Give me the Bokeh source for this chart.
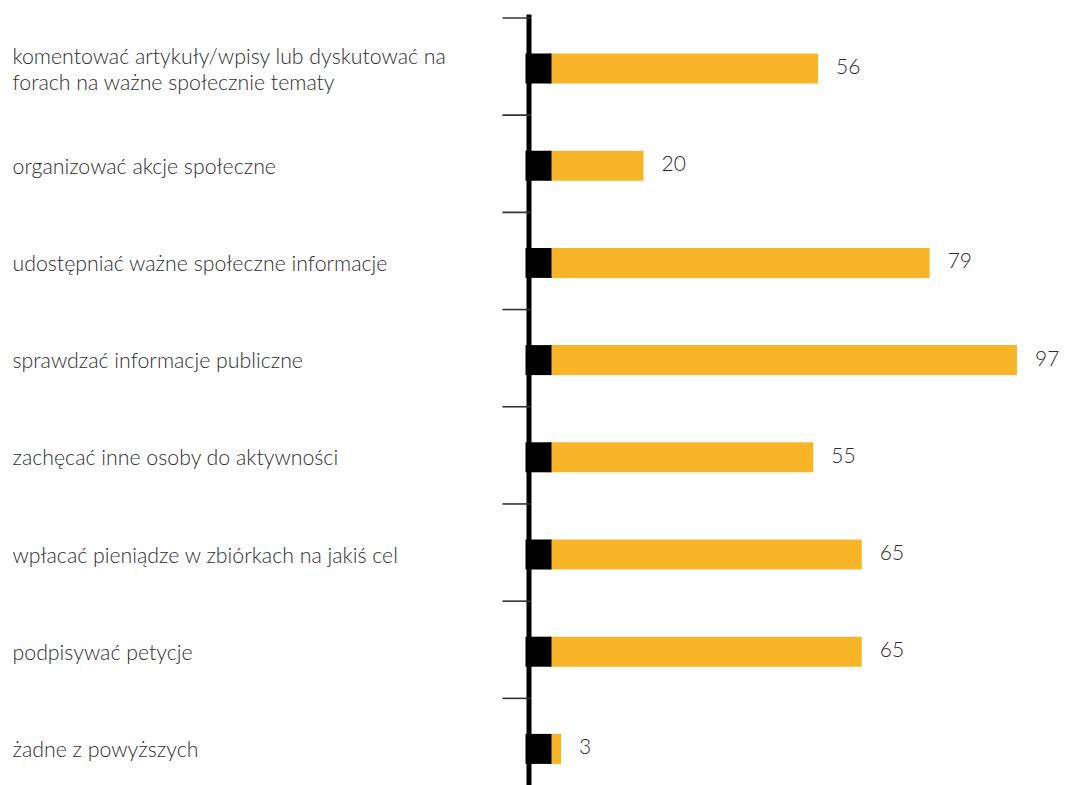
from bokeh.plotting import figure
from bokeh.models import Range1d, ColumnDataSource
from bokeh.core.properties import value
from bokeh.embed import file_html
from bokeh.resources import INLINE

categories = [
    "komentować artykuły/wpisy lub dyskutować na\nforach na ważne społecznie tematy",
    "organizować akcje społeczne",
    "udostępniać ważne społeczne informacje",
    "sprawdzać informacje publiczne",
    "zachęcać inne osoby do aktywności",
    "wpłacać pieniądze w zbiórkach na jakiś cel",
    "podpisywać petycje",
    "żadne z powyższych",
]
values = [56, 20, 79, 97, 55, 65, 65, 3]
value_labels = [str(v) for v in values]

W, H = 1072, 785
X0, S = 546.0, 4.85      # px of value 0, px per unit
Y0, SY = 68.0, 97.2      # px of first row centre, px per row

def xd(px):
    return (px - X0) / S

def yd(py):
    return (py - Y0) / SY

idx = list(range(len(categories)))
src = ColumnDataSource(dict(y=idx, v=values, cat=categories, lab=value_labels,
                            zero=[0] * len(values)))

p = figure(width=W, height=H, output_backend="svg", toolbar_location=None,
           x_range=Range1d(xd(0), xd(W)), y_range=Range1d(yd(H), yd(0)),
           min_border=0, min_border_left=0, min_border_right=0,
           min_border_top=0, min_border_bottom=0)
p.xaxis.visible = False
p.yaxis.visible = False
p.xgrid.visible = False
p.ygrid.visible = False
p.outline_line_color = None
p.background_fill_color = "white"
p.border_fill_color = "white"

bar_h = 30 / SY
yellow = "#F8B527"

# yellow bars
p.hbar(y="y", left="zero", right="v", height=bar_h, source=src,
       fill_color=yellow, line_color=None)

# axis line
p.segment(x0=[xd(528.5)], y0=[yd(14)], x1=[xd(528.5)], y1=[yd(H + 5)],
          line_color="black", line_width=5)

# ticks at category boundaries
tick_y = [i - 0.52 for i in idx]
p.segment(x0=[xd(502)] * len(tick_y), y0=tick_y,
          x1=[xd(530)] * len(tick_y), y1=tick_y,
          line_color="#333333", line_width=1.6)

# black squares at bar starts
p.hbar(y="y", left=xd(525), right=xd(551), height=bar_h, source=src,
       fill_color="black", line_color=None)

# value labels
p.text(x="v", y="y", text="lab", source=src, x_offset=18, y_offset=-2,
       text_font=value("Lato Light"), text_font_size="21px",
       text_color="#2e2e2e", text_baseline="middle", text_align="left")

# category labels
p.text(x=xd(12), y="y", text="cat", source=src, y_offset=0,
       text_font=value("Lato Light"), text_font_size="21.3px",
       text_color="#2e2e2e", text_baseline="middle", text_align="left",
       text_line_height=1.0)

open("out.html", "w").write(file_html(p, INLINE))
